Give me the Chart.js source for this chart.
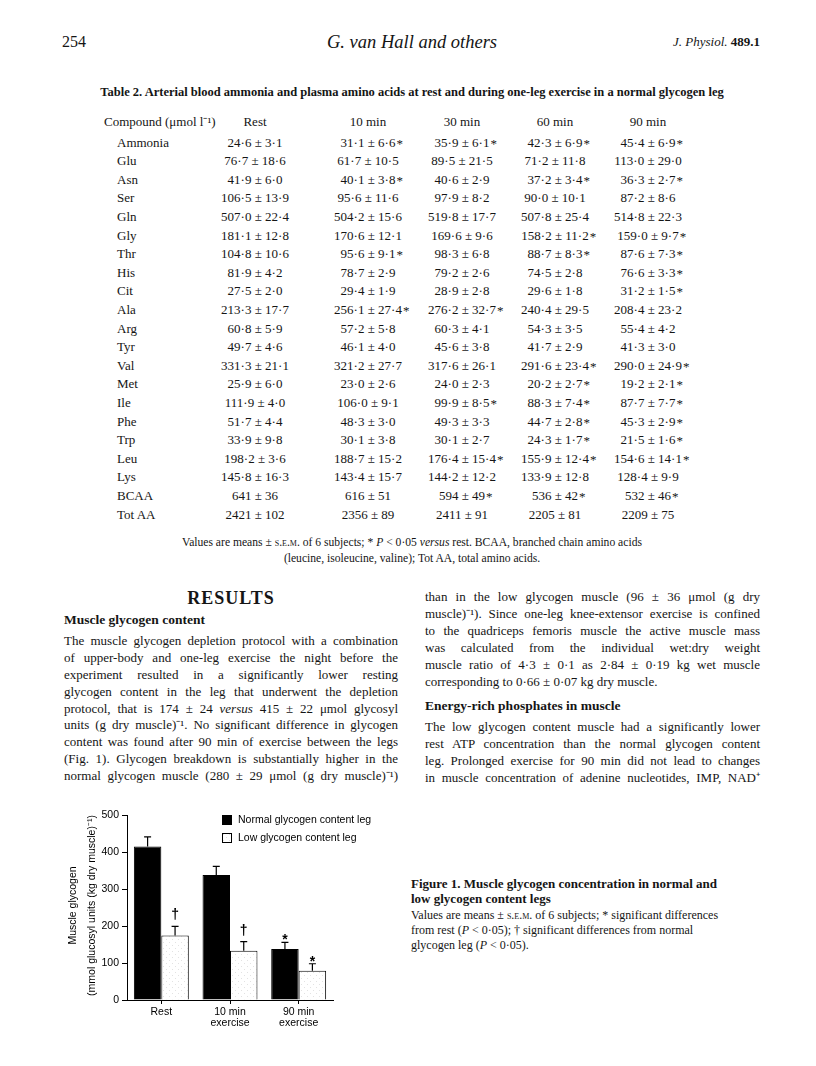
<!DOCTYPE html>
<html>
<head>
<meta charset="utf-8">
<script src="https://cdn.jsdelivr.net/npm/chart.js@4.4.1/dist/chart.umd.min.js"></script>
<style>
body{margin:0;background:#fff}
#page{position:relative;width:816px;height:1066px;overflow:hidden;background:#fff;color:#151515;font-family:"Liberation Serif","Times New Roman",serif}
.t{position:absolute;white-space:nowrap;line-height:18px}
.j{position:absolute;line-height:18px;font-size:13px;text-align:justify;text-align-last:justify;word-spacing:-0.5px}
.jl{position:absolute;line-height:18px;font-size:13px;white-space:nowrap}
.L{left:64px;width:334px}
.R{left:425px;width:335px}
.c{text-align:center}
.sc{font-variant:small-caps}
.ast{position:absolute;left:100%;top:0;padding-left:1px}
#chartBox{position:absolute;left:60px;top:700px}
</style>
</head>
<body>
<div id="page">
  <div class="t" style="left:62px;top:33px;font-size:16px">254</div>
  <div class="t c" style="left:0;width:824px;top:33px;font-size:18.5px;font-style:italic">G. van Hall and others</div>
  <div class="t" style="right:56px;top:33px;font-size:13px"><i>J. Physiol.</i> <b>489.1</b></div>

  <div class="t c" style="left:0;width:824px;top:83px;font-size:12.5px;font-weight:bold">Table 2. Arterial blood ammonia and plasma amino acids at rest and during one-leg exercise in a normal glycogen leg</div>

  <div id="table"></div>

  <div class="t c" style="left:0;width:824px;top:534px;font-size:11.6px">Values are means ± <span class="sc">s.e.m.</span> of 6 subjects; * <i>P</i> &lt; 0·05 <i>versus</i> rest. BCAA, branched chain amino acids</div>
  <div class="t c" style="left:0;width:824px;top:550px;font-size:11.6px">(leucine, isoleucine, valine); Tot AA, total amino acids.</div>

  <div class="t c" style="left:64px;width:334px;top:589px;font-size:18px;font-weight:bold;letter-spacing:1px">RESULTS</div>
  <div class="t" style="left:64px;top:611px;font-size:13.5px;font-weight:bold">Muscle glycogen content</div>
  <div class="j L" style="top:632px">The muscle glycogen depletion protocol with a combination</div>
  <div class="j L" style="top:649px">of upper-body and one-leg exercise the night before the</div>
  <div class="j L" style="top:666px">experiment resulted in a significantly lower resting</div>
  <div class="j L" style="top:683px">glycogen content in the leg that underwent the depletion</div>
  <div class="j L" style="top:700px">protocol, that is 174 ± 24 <i>versus</i> 415 ± 22 μmol glycosyl</div>
  <div class="j L" style="top:716px">units (g dry muscle)⁻¹. No significant difference in glycogen</div>
  <div class="j L" style="top:733px">content was found after 90 min of exercise between the legs</div>
  <div class="j L" style="top:750px">(Fig. 1). Glycogen breakdown is substantially higher in the</div>
  <div class="j L" style="top:767px">normal glycogen muscle (280 ± 29 μmol (g dry muscle)⁻¹)</div>

  <div class="j R" style="top:588px">than in the low glycogen muscle (96 ± 36 μmol (g dry</div>
  <div class="j R" style="top:605px">muscle)⁻¹). Since one-leg knee-extensor exercise is confined</div>
  <div class="j R" style="top:622px">to the quadriceps femoris muscle the active muscle mass</div>
  <div class="j R" style="top:639px">was calculated from the individual wet:dry weight</div>
  <div class="j R" style="top:656px">muscle ratio of 4·3 ± 0·1 as 2·84 ± 0·19 kg wet muscle</div>
  <div class="jl" style="left:425px;top:673px">corresponding to 0·66 ± 0·07 kg dry muscle.</div>
  <div class="t" style="left:425px;top:697px;font-size:13.5px;font-weight:bold">Energy-rich phosphates in muscle</div>
  <div class="j R" style="top:718px">The low glycogen content muscle had a significantly lower</div>
  <div class="j R" style="top:735px">rest ATP concentration than the normal glycogen content</div>
  <div class="j R" style="top:752px">leg. Prolonged exercise for 90 min did not lead to changes</div>
  <div class="j R" style="top:769px">in muscle concentration of adenine nucleotides, IMP, NAD⁺</div>

  <div class="t" style="left:411px;top:875px;font-size:13px;font-weight:bold">Figure 1. Muscle glycogen concentration in normal and</div>
  <div class="t" style="left:411px;top:890px;font-size:13px;font-weight:bold">low glycogen content legs</div>
  <div class="t" style="left:411px;top:906px;font-size:12px">Values are means ± <span class="sc">s.e.m.</span> of 6 subjects; * significant differences</div>
  <div class="t" style="left:411px;top:921px;font-size:12px">from rest (<i>P</i> &lt; 0·05); † significant differences from normal</div>
  <div class="t" style="left:411px;top:936px;font-size:12px">glycogen leg (<i>P</i> &lt; 0·05).</div>

  <div id="chartBox"><canvas id="glycogenChart" width="340" height="350"></canvas></div>
</div>

<script>
// chart data
const categories = ["Rest", ["10 min", "exercise"], ["90 min", "exercise"]];
const normalValues = [415, 338, 138];
const normalErrors = [26, 23, 18];
const normalMarks = ["", "", "*"];
const lowValues = [174, 133, 79];
const lowErrors = [25, 25, 19];
const lowMarks = ["†", "†", "*"];
const yTicks = [0, 100, 200, 300, 400, 500];
const yTitleLines = ["Muscle glycogen", "(mmol glucosyl units (kg dry muscle)⁻¹)"];

// table data
const tableCols = ["Rest", "10 min", "30 min", "60 min", "90 min"];
const tableRows = [
  ["Ammonia", "24·6 ± 3·1", "31·1 ± 6·6*", "35·9 ± 6·1*", "42·3 ± 6·9*", "45·4 ± 6·9*"],
  ["Glu", "76·7 ± 18·6", "61·7 ± 10·5", "89·5 ± 21·5", "71·2 ± 11·8", "113·0 ± 29·0"],
  ["Asn", "41·9 ± 6·0", "40·1 ± 3·8*", "40·6 ± 2·9", "37·2 ± 3·4*", "36·3 ± 2·7*"],
  ["Ser", "106·5 ± 13·9", "95·6 ± 11·6", "97·9 ± 8·2", "90·0 ± 10·1", "87·2 ± 8·6"],
  ["Gln", "507·0 ± 22·4", "504·2 ± 15·6", "519·8 ± 17·7", "507·8 ± 25·4", "514·8 ± 22·3"],
  ["Gly", "181·1 ± 12·8", "170·6 ± 12·1", "169·6 ± 9·6", "158·2 ± 11·2*", "159·0 ± 9·7*"],
  ["Thr", "104·8 ± 10·6", "95·6 ± 9·1*", "98·3 ± 6·8", "88·7 ± 8·3*", "87·6 ± 7·3*"],
  ["His", "81·9 ± 4·2", "78·7 ± 2·9", "79·2 ± 2·6", "74·5 ± 2·8", "76·6 ± 3·3*"],
  ["Cit", "27·5 ± 2·0", "29·4 ± 1·9", "28·9 ± 2·8", "29·6 ± 1·8", "31·2 ± 1·5*"],
  ["Ala", "213·3 ± 17·7", "256·1 ± 27·4*", "276·2 ± 32·7*", "240·4 ± 29·5", "208·4 ± 23·2"],
  ["Arg", "60·8 ± 5·9", "57·2 ± 5·8", "60·3 ± 4·1", "54·3 ± 3·5", "55·4 ± 4·2"],
  ["Tyr", "49·7 ± 4·6", "46·1 ± 4·0", "45·6 ± 3·8", "41·7 ± 2·9", "41·3 ± 3·0"],
  ["Val", "331·3 ± 21·1", "321·2 ± 27·7", "317·6 ± 26·1", "291·6 ± 23·4*", "290·0 ± 24·9*"],
  ["Met", "25·9 ± 6·0", "23·0 ± 2·6", "24·0 ± 2·3", "20·2 ± 2·7*", "19·2 ± 2·1*"],
  ["Ile", "111·9 ± 4·0", "106·0 ± 9·1", "99·9 ± 8·5*", "88·3 ± 7·4*", "87·7 ± 7·7*"],
  ["Phe", "51·7 ± 4·4", "48·3 ± 3·0", "49·3 ± 3·3", "44·7 ± 2·8*", "45·3 ± 2·9*"],
  ["Trp", "33·9 ± 9·8", "30·1 ± 3·8", "30·1 ± 2·7", "24·3 ± 1·7*", "21·5 ± 1·6*"],
  ["Leu", "198·2 ± 3·6", "188·7 ± 15·2", "176·4 ± 15·4*", "155·9 ± 12·4*", "154·6 ± 14·1*"],
  ["Lys", "145·8 ± 16·3", "143·4 ± 15·7", "144·2 ± 12·2", "133·9 ± 12·8", "128·4 ± 9·9"],
  ["BCAA", "641 ± 36", "616 ± 51", "594 ± 49*", "536 ± 42*", "532 ± 46*"],
  ["Tot AA", "2421 ± 102", "2356 ± 89", "2411 ± 91", "2205 ± 81", "2209 ± 75"]
];

// build the table (column centres, row step)
const colX = [255, 368, 462, 555, 648];
const table = document.getElementById("table");
function cell(x, y, html){
  const d = document.createElement("div");
  d.className = "t";
  d.style.cssText = `left:${x - 100}px;width:200px;top:${y - 9}px;font-size:13px;text-align:center`;
  d.innerHTML = html;
  table.appendChild(d);
}
function valueHtml(s){
  if(!s.endsWith("*")) return s;
  return `<span style="position:relative">${s.slice(0, -1)}<span class="ast">*</span></span>`;
}
const head = document.createElement("div");
head.className = "t";
head.style.cssText = "left:104px;top:113px;font-size:13px";
head.innerHTML = "Compound (μmol l⁻¹)";
table.appendChild(head);
tableCols.forEach((c, i) => cell(colX[i], 122, c));
tableRows.forEach((row, r) => {
  const y = 142.5 + r * 18.6;
  const lab = document.createElement("div");
  lab.className = "t";
  lab.style.cssText = `left:117px;top:${y - 9}px;font-size:13px`;
  lab.textContent = row[0];
  table.appendChild(lab);
  row.slice(1).forEach((v, i) => cell(colX[i], y, valueHtml(v)));
});

// light speckle for the white bars
function speckle(){
  const c = document.createElement("canvas");
  c.width = c.height = 6;
  const g = c.getContext("2d");
  g.fillStyle = "#fff"; g.fillRect(0, 0, 6, 6);
  g.fillStyle = "#e2e2e2"; g.fillRect(1, 2, 1, 1); g.fillRect(4, 5, 1, 1);
  return g.createPattern(c, "repeat");
}

const sans = "'Liberation Sans', Arial, Helvetica, sans-serif";

// error bars + significance marks
const errorBars = {
  id: "errorBars",
  afterDatasetsDraw(chart){
    const {ctx, scales: {y}} = chart;
    chart.data.datasets.forEach((ds, i) => {
      chart.getDatasetMeta(i).data.forEach((bar, j) => {
        const top = y.getPixelForValue(ds.data[j] + ds.errors[j]);
        ctx.save();
        ctx.strokeStyle = "#000";
        ctx.lineWidth = 1.2;
        ctx.beginPath();
        ctx.moveTo(bar.x, bar.y); ctx.lineTo(bar.x, top);
        ctx.moveTo(bar.x - 3.5, top); ctx.lineTo(bar.x + 3.5, top);
        ctx.stroke();
        const m = ds.marks[j];
        if(m){
          ctx.fillStyle = "#000";
          ctx.font = "bold 14px " + sans;
          ctx.textAlign = "center";
          ctx.textBaseline = "alphabetic";
          ctx.fillText(m, bar.x, m === "*" ? top + 2 : top - 7);
        }
        ctx.restore();
      });
    });
  }
};

// legend boxes inside the plot
const boxLegend = {
  id: "boxLegend",
  afterDraw(chart){
    const {ctx, chartArea} = chart;
    ctx.save();
    ctx.font = "10.5px " + sans;
    ctx.textBaseline = "middle";
    chart.data.datasets.forEach((ds, i) => {
      const x = chartArea.left + 95, y = chartArea.top + i * 18;
      ctx.fillStyle = ds.backgroundColor;
      ctx.fillRect(x, y, 10, 10);
      ctx.strokeStyle = "#000";
      ctx.lineWidth = 1;
      ctx.strokeRect(x + 0.5, y + 0.5, 9, 9);
      ctx.fillStyle = "#000";
      ctx.fillText(ds.label, x + 16, y + 5);
    });
    ctx.restore();
  }
};

// two-line y axis title, both lines centred on the plot
const yTitle = {
  id: "yTitle",
  afterDraw(chart){
    const {ctx, chartArea} = chart;
    const mid = (chartArea.top + chartArea.bottom) / 2;
    ctx.save();
    ctx.font = "10.5px " + sans;
    ctx.fillStyle = "#000";
    ctx.textAlign = "center";
    ctx.textBaseline = "middle";
    [-54, -35].forEach((dx, i) => {
      ctx.save();
      ctx.translate(chartArea.left + dx, mid - 2);
      ctx.rotate(-Math.PI / 2);
      ctx.fillText(yTitleLines[i], 0, 0);
      ctx.restore();
    });
    ctx.restore();
  }
};

new Chart(document.getElementById("glycogenChart"), {
  type: "bar",
  data: {
    labels: categories,
    datasets: [
      { label: "Normal glycogen content leg", data: normalValues, errors: normalErrors, marks: normalMarks,
        backgroundColor: "#000", borderColor: "#000", borderWidth: 1 },
      { label: "Low glycogen content leg", data: lowValues, errors: lowErrors, marks: lowMarks,
        backgroundColor: speckle(), borderColor: "#000", borderWidth: 1 }
    ]
  },
  options: {
    responsive: false,
    animation: false,
    categoryPercentage: 0.8,
    barPercentage: 1.0,
    layout: { padding: { top: 115, right: 67, left: 0, bottom: 0 } },
    plugins: { legend: { display: false }, tooltip: { enabled: false } },
    scales: {
      x: {
        grid: { display: true, drawOnChartArea: false, offset: false, tickLength: 4, color: "#000" },
        border: { color: "#000", width: 1 },
        ticks: { color: "#000", padding: 2, font: { family: sans, size: 10.5, lineHeight: 1.1 } },
        afterFit(s){ s.height = 50; }
      },
      y: {
        min: 0, max: 500,
        afterBuildTicks(s){ s.ticks = yTicks.map(v => ({ value: v })); },
        grid: { drawOnChartArea: false, tickLength: 5, color: "#000" },
        border: { color: "#000", width: 1 },
        ticks: { color: "#000", padding: 3, font: { family: sans, size: 10.5 } },
        afterFit(s){ s.width = 67; }
      }
    }
  },
  plugins: [errorBars, boxLegend, yTitle]
});
</script>
</body>
</html>
